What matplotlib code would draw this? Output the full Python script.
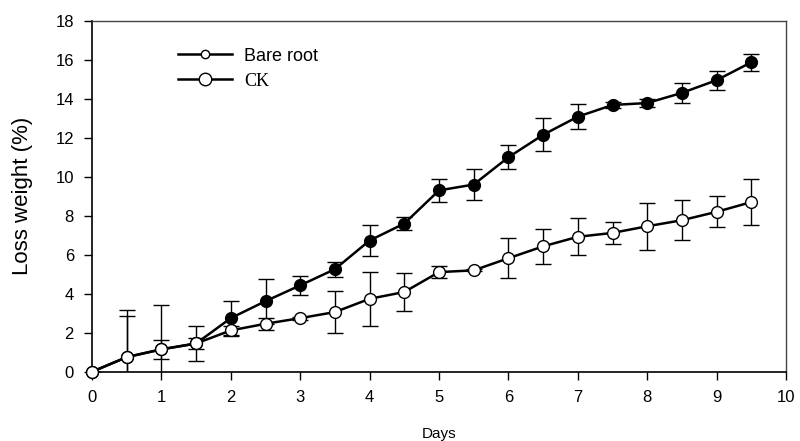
import matplotlib
matplotlib.use("Agg")
import matplotlib.pyplot as plt
from matplotlib.lines import Line2D
import numpy as np

plt.rcParams['font.family'] = ['Liberation Sans', 'DejaVu Sans']

days = [0, 0.5, 1, 1.5, 2, 2.5, 3, 3.5, 4, 4.5, 5, 5.5, 6, 6.5, 7, 7.5, 8, 8.5, 9, 9.5]
bare_root = [0, 0.75, 1.15, 1.45, 2.75, 3.62, 4.43, 5.26, 6.73, 7.6, 9.3, 9.6,
             11.0, 12.15, 13.08, 13.68, 13.78, 14.3, 14.95, 15.87]
bare_err = [0, 2.1, 0.5, 0.3, 0.9, 1.15, 0.48, 0.38, 0.8, 0.35, 0.58, 0.8,
            0.62, 0.85, 0.65, 0.15, 0.2, 0.5, 0.48, 0.43]
ck = [0, 0.75, 1.15, 1.45, 2.12, 2.46, 2.75, 3.06, 3.74, 4.09, 5.11, 5.2,
      5.82, 6.43, 6.92, 7.12, 7.46, 7.77, 8.2, 8.7]
ck_err = [0, 2.4, 2.25, 0.9, 0.25, 0.3, 0.08, 1.06, 1.38, 0.95, 0.3, 0.05,
          1.02, 0.9, 0.95, 0.55, 1.2, 1.03, 0.8, 1.2]

fig = plt.figure(figsize=(8, 4.41), dpi=100)
ax = fig.add_axes([0.115, 0.157, 0.8675, 0.796])

# error bars (clipped at the axes), then lines + markers (not clipped)
ax.errorbar(days, bare_root, yerr=bare_err, fmt='none', ecolor='black',
            elinewidth=1.0, capsize=6, capthick=1.0, zorder=2)
ax.errorbar(days, ck, yerr=ck_err, fmt='none', ecolor='black',
            elinewidth=1.0, capsize=6, capthick=1.0, zorder=2)
ax.plot(days, bare_root, color='black', lw=1.8, marker='o', ms=8.5,
        mfc='black', mec='black', mew=1.0, zorder=3, clip_on=False)
ax.plot(days, ck, color='black', lw=1.8, marker='o', ms=8.5,
        mfc='white', mec='black', mew=1.0, zorder=4, clip_on=False)

ax.set_xlim(0, 10)
ax.set_ylim(0, 18)
ax.set_xticks(np.arange(0, 11, 1))
ax.set_yticks(np.arange(0, 19, 2))
ax.tick_params(direction='out', length=6, width=1, labelsize=12, pad=7)
ax.tick_params(top=False, right=False)
for s in ['left', 'bottom']:
    ax.spines[s].set_linewidth(1.2)
for s in ['top', 'right']:
    ax.spines[s].set_linewidth(1.0)
    ax.spines[s].set_color('#444444')

ax.set_xlabel("Days", fontsize=11, labelpad=16)
ax.set_ylabel("Loss weight (%)", fontsize=16, labelpad=16)

handles = [Line2D([], [], color='black', lw=1.8, marker='o', ms=6, mfc='white', mec='black'),
           Line2D([], [], color='black', lw=1.8, marker='o', ms=9, mfc='white', mec='black')]
leg = ax.legend(handles, ["Bare root", "CK"], loc='upper left', bbox_to_anchor=(0.1, 0.97),
                frameon=False, fontsize=13, handlelength=3.0, handletextpad=0.7,
                labelspacing=0.45)
leg.get_texts()[1].set_family(['Liberation Serif', 'DejaVu Serif'])

fig.savefig('out.png', dpi=100)
